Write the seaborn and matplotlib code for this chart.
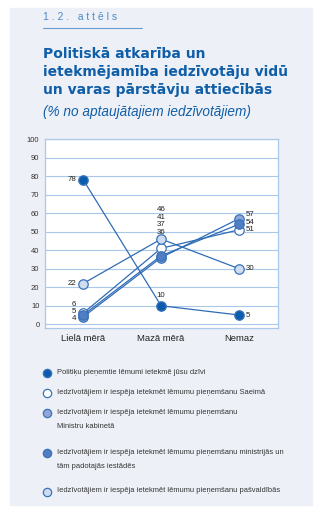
import matplotlib
matplotlib.use("Agg")
import matplotlib.pyplot as plt
import seaborn as sns
import pandas as pd
from matplotlib.patches import Rectangle
from matplotlib.lines import Line2D

sns.set_theme(style="white")
plt.rcParams['font.family'] = ['Liberation Sans', 'DejaVu Sans']

categories = ["Lielā mērā", "Mazā mērā", "Nemaz"]
s_politiki = [78, 10, 5]
s_saeima = [6, 41, 51]
s_mk = [4, 36, 57]
s_ministr = [5, 37, 54]
s_pasv = [22, 46, 30]
legend_labels = [
    "Politiķu pieņemtie lēmumi ietekmē jūsu dzīvi",
    "Iedzīvotājiem ir iespēja ietekmēt lēmumu pieņemšanu Saeimā",
    "Iedzīvotājiem ir iespēja ietekmēt lēmumu pieņemšanu\nMinistru kabinetā",
    "Iedzīvotājiem ir iespēja ietekmēt lēmumu pieņemšanu ministrijās un\ntām padotajās iestādēs",
    "Iedzīvotājiem ir iespēja ietekmēt lēmumu pieņemšanu pašvaldībās",
]
yticks = list(range(0, 101, 10))

series = [s_politiki, s_saeima, s_mk, s_ministr, s_pasv]
fills = ["#0b5cad", "#ffffff", "#8ea7d8", "#4f7fc2", "#cddcf1"]
line_c = "#2f6cb6"
edge_c = "#3a72ba"

fig = plt.figure(figsize=(3.2, 5.09), dpi=100)
fig.patch.set_facecolor("white")
W, H = 320, 509
def fx(x): return x / W
def fy(y): return 1 - y / H

fig.patches.append(Rectangle((fx(10), fy(505)), fx(302), (497) / H,
                             transform=fig.transFigure, color="#edf1f7", zorder=-10))

# header
fig.text(fx(43), fy(17), "1 . 2 .   a t t ē l s", fontsize=7.5, color="#4a8ac8",
         va="center", ha="left")
fig.add_artist(Line2D([fx(43), fx(142)], [fy(28), fy(28)], transform=fig.transFigure,
                      color="#6a9ad0", lw=0.8))
title = "Politiskā atkarība un\nietekmējamība iedzīvotāju vidū\nun varas pārstāvju attiecībās"
fig.text(fx(43), fy(47), title, fontsize=10, fontweight="bold", color="#115ea8",
         family=["DejaVu Sans"], va="top", ha="left", linespacing=1.38)
fig.text(fx(43), fy(112), "(% no aptaujātajiem iedzīvotājiem)", fontsize=9.8,
         style="italic", color="#115ea8", family=["Liberation Sans", "DejaVu Sans"],
         va="center", ha="left")

ax = fig.add_axes([fx(45), fy(328), fx(278 - 45), (328 - 139) / H], zorder=2)
ax.set_facecolor("white")

for vals, fc in zip(series, fills):
    df = pd.DataFrame({"cat": categories, "val": vals})
    sns.lineplot(data=df, x="cat", y="val", ax=ax, color=line_c, lw=0.9,
                 marker="o", markersize=6.8, markerfacecolor=fc,
                 markeredgecolor=edge_c, markeredgewidth=0.9, zorder=3)

ax.set_xlim(-0.49, 2.5)
ax.set_ylim(-2, 100)
ax.set_yticks(yticks)
ax.set_yticklabels([str(t) for t in yticks], fontsize=5.5, color="#333333")
ax.set_xticks(range(3))
ax.set_xticklabels(categories, fontsize=6.8, color="#222222")
ax.set_xlabel("")
ax.set_ylabel("")
ax.tick_params(axis="both", length=0, pad=4)
ax.grid(axis="y", color="#a9c8ea", lw=0.8)
ax.set_axisbelow(True)
for sp in ax.spines.values():
    sp.set_color("#a9c8ea")
    sp.set_linewidth(0.9)

lab_kw = dict(fontsize=5.7, color="#222222", va="center")
# Lielā mērā labels (left)
ax.text(-0.09, 78, "78", ha="right", **lab_kw)
ax.text(-0.09, 22, "22", ha="right", **lab_kw)
ax.text(-0.09, 10.5, "6", ha="right", **lab_kw)
ax.text(-0.09, 6.7, "5", ha="right", **lab_kw)
ax.text(-0.09, 2.9, "4", ha="right", **lab_kw)
# Mazā mērā labels (above)
for i, v in enumerate(sorted([s_pasv[1], s_saeima[1], s_ministr[1], s_mk[1]], reverse=True)):
    ax.text(1.0, 62 - i * 4.2, str(v), ha="center", **lab_kw)
ax.text(1.0, 15.5, str(s_politiki[1]), ha="center", **lab_kw)
# Nemaz labels (right)
ax.text(2.09, 59, str(s_mk[2]), ha="left", **lab_kw)
ax.text(2.09, 55, str(s_ministr[2]), ha="left", **lab_kw)
ax.text(2.09, 51, str(s_saeima[2]), ha="left", **lab_kw)
ax.text(2.09, 30, str(s_pasv[2]), ha="left", **lab_kw)
ax.text(2.09, 5, str(s_politiki[2]), ha="left", **lab_kw)

# legend
rows = [373, 393, 413, 453, 492]
for y, fc, lab in zip(rows, fills, legend_labels):
    fig.add_artist(Line2D([fx(47)], [fy(y)], transform=fig.transFigure, marker="o",
                          markersize=6, markerfacecolor=fc, markeredgecolor=edge_c,
                          markeredgewidth=0.9, linestyle="none"))
    fig.text(fx(57), fy(y - 4.5), lab, fontsize=5.4, color="#333333", va="top", ha="left",
             linespacing=2.5)

fig.savefig("out.png", dpi=100, facecolor=fig.get_facecolor())
